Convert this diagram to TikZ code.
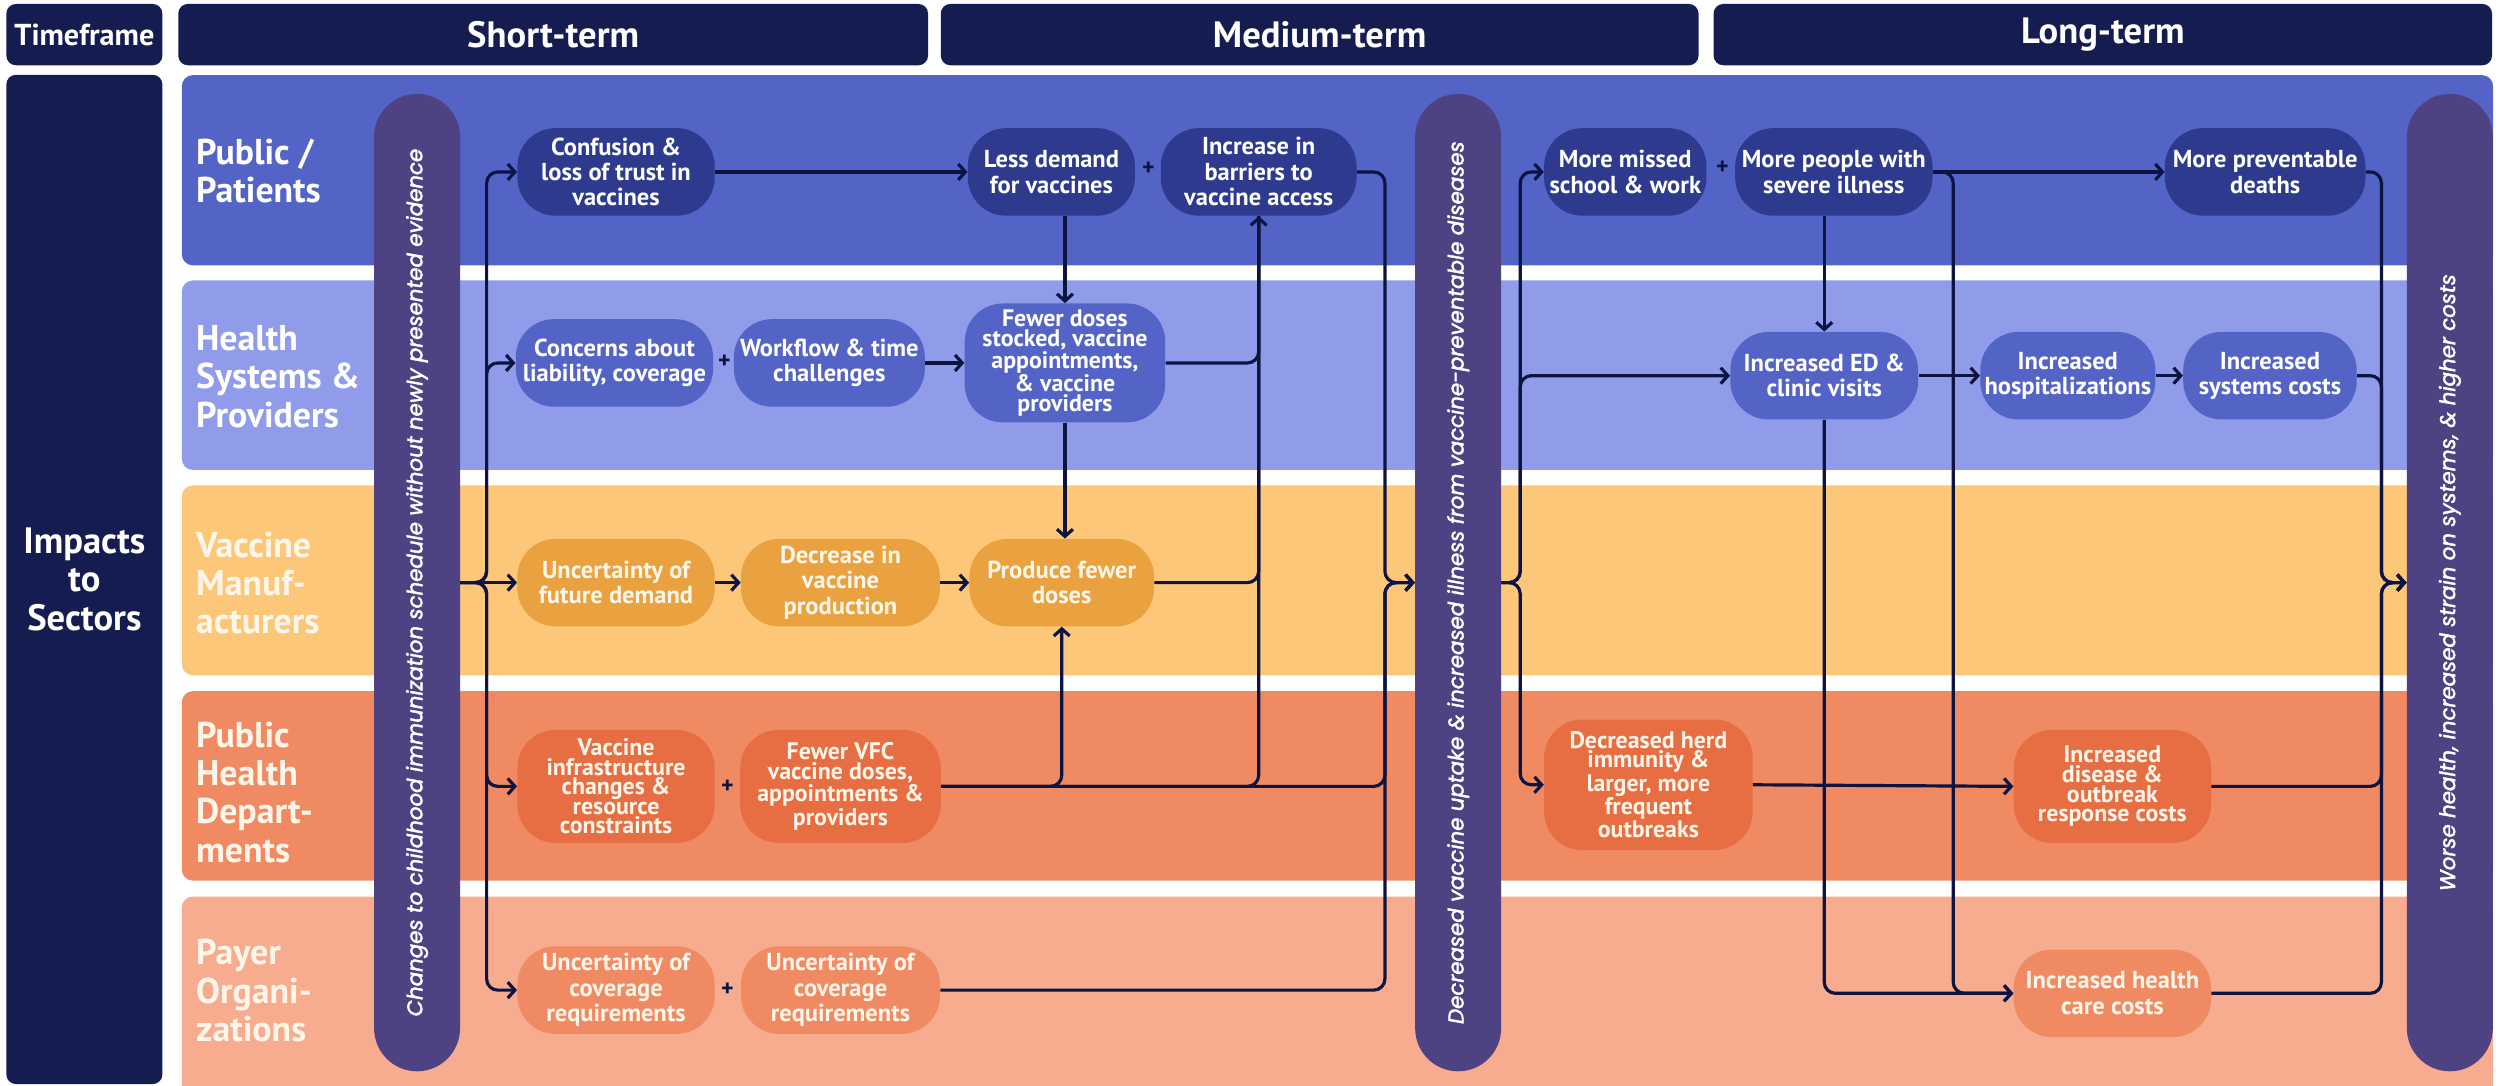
\documentclass[tikz,border=0pt]{standalone}
\usepackage{fontspec}
\setmainfont{PT Sans}
\newfontfamily\barfont{Poppins}[FakeBold=2]
\usetikzlibrary{arrows.meta}
\definecolor{navy}{HTML}{151D50}
\definecolor{laneA}{HTML}{5464C6}
\definecolor{laneB}{HTML}{909CEA}
\definecolor{laneC}{HTML}{FDC779}
\definecolor{laneD}{HTML}{F08A62}
\definecolor{laneE}{HTML}{F7AB8F}
\definecolor{nodeA}{HTML}{2E3A8E}
\definecolor{nodeB}{HTML}{5464C6}
\definecolor{nodeC}{HTML}{E9A23F}
\definecolor{nodeD}{HTML}{E76E42}
\definecolor{nodeE}{HTML}{F08A62}
\definecolor{barc}{HTML}{4E4283}
\definecolor{linec}{HTML}{0E1442}
\definecolor{cream}{HTML}{FFF6EA}
\begin{document}
\begin{tikzpicture}[x=1pt,y=-1pt,
  hdr/.style={fill=navy, rounded corners=6pt, text=white, inner sep=0pt, align=center,
    font=\fontsize{23}{24}\selectfont\bfseries},
  lanebox/.style={rounded corners=7pt, inner sep=0pt, anchor=north west, minimum width=1452pt},
  lbl/.style={anchor=west, align=left, text=white, inner sep=0pt,
    font=\fontsize{22.5}{24}\selectfont\bfseries},
  bx/.style={rounded corners=24pt, align=center, text=white, inner xsep=1pt, inner ysep=4pt,
    minimum height=55pt, font=\fontsize{15.4}{16}\selectfont\bfseries},
  dense/.style={font=\fontsize{15}{12.3}\selectfont\bfseries, minimum height=71pt},
  bA/.style={bx, fill=nodeA},
  bB/.style={bx, fill=nodeB},
  bC/.style={bx, fill=nodeC, text=cream},
  bD/.style={bx, fill=nodeD, text=cream},
  bE/.style={bx, fill=nodeE, text=cream},
  bar/.style={fill=barc, rounded corners=27pt, minimum width=54pt, inner sep=0pt},
  bartext/.style={rotate=90, text=white, inner sep=0pt,
    font=\barfont\itshape\fontsize{13.4}{14}\selectfont},
  conn/.style={draw=linec, line width=2pt, rounded corners=7pt},
  arr/.style={conn, -{Straight Barb[length=4.5pt,width=10pt]}},
  plus/.style={text=linec, inner sep=0pt, font=\fontsize{15}{15}\selectfont\bfseries}
]
\useasboundingbox[fill=white] (0,0) rectangle (1568,682);

% headers
\node[hdr, minimum width=98pt, minimum height=38.5pt, font=\fontsize{19}{22}\selectfont\bfseries] (tf) at (53,21.75) {Timeframe};
\node[hdr, minimum width=471pt, minimum height=38.5pt] (st) at (347.5,21.75) {Short-term};
\node[hdr, minimum width=476pt, minimum height=38.5pt] (mt) at (829,21.75) {Medium-term};
\node[hdr, minimum width=489pt, minimum height=38.5pt] (lt) at (1321,21.75) {Long-term};
\node[hdr, minimum width=98pt, minimum height=634pt] (imp) at (53,364) {Impacts\\to\\Sectors};

% lanes
\node[lanebox, fill=laneA, minimum height=119.5pt] (lane1) at (114,47) {};
\node[lanebox, fill=laneB, minimum height=119pt] (lane2) at (114,176) {};
\node[lanebox, fill=laneC, minimum height=119.3pt] (lane3) at (114,304.7) {};
\node[lanebox, fill=laneD, minimum height=119pt] (lane4) at (114,434) {};
\node[lanebox, fill=laneE, minimum height=130pt] (lane5) at (114,563) {};

\node[lbl] (ll1) at (123,107.3) {Public /\\Patients};
\node[lbl] (ll2) at (123,236.6) {Health\\Systems \&\\Providers};
\node[lbl, text=cream] (ll3) at (123,366.4) {Vaccine\\Manuf-\\acturers};
\node[lbl, text=cream] (ll4) at (123,497.7) {Public\\Health\\Depart-\\ments};
\node[lbl, text=cream] (ll5) at (123,622.3) {Payer\\Organi-\\zations};

% bars
\node[bar, minimum height=614pt] (b1) at (262,366) {};
\node[bar, minimum height=614pt] (b2) at (916,366) {};
\node[bar, minimum height=614pt] (b3) at (1539,366) {};
\node[bartext] (bt1) at (b1.center) {Changes to childhood immunization schedule without newly presented evidence};
\node[bartext] (bt2) at (b2.center) {Decreased vaccine uptake \& increased illness from vaccine-preventable diseases};
\node[bartext] (bt3) at (b3.center) {Worse health, increased strain on systems, \& higher costs};

% lane 1 nodes
\node[bA, minimum width=124pt] (conf) at (387,108) {Confusion \&\\loss of trust in\\vaccines};
\node[bA, minimum width=105pt] (less) at (660.5,108) {Less demand\\for vaccines};
\node[bA, minimum width=123pt] (barr) at (790.7,108) {Increase in\\barriers to\\vaccine access};
\node[bA, minimum width=102pt] (miss) at (1021,108) {More missed\\school \& work};
\node[bA, minimum width=124pt] (sev) at (1152,108) {More people with\\severe illness};
\node[bA, minimum width=126pt] (death) at (1423,108) {More preventable\\deaths};
\node[plus] (p1) at (721.5,106) {+};
\node[plus] (p2) at (1082,105.5) {+};

% lane 2 nodes
\node[bB, minimum width=124pt] (conc) at (386,228) {Concerns about\\liability, coverage};
\node[bB, minimum width=120pt] (work) at (521,228) {Workflow \& time\\challenges};
\node[bB, dense, minimum width=126pt, minimum height=72pt] (fewer) at (669,228) {Fewer doses\\stocked, vaccine\\appointments,\\\& vaccine\\providers};
\node[bB, minimum width=118pt] (ed) at (1146,236) {Increased ED \&\\clinic visits};
\node[bB, minimum width=110pt] (hosp) at (1299,236) {Increased\\hospitalizations};
\node[bB, minimum width=109pt] (sys) at (1426,236) {Increased\\systems costs};
\node[plus] (p3) at (455,227) {+};

% lane 3 nodes
\node[bC, minimum width=124pt] (unc) at (387,366) {Uncertainty of\\future demand};
\node[bC, minimum width=125pt] (dec) at (528,366) {Decrease in\\vaccine\\production};
\node[bC, minimum width=116pt] (prod) at (667,366) {Produce fewer\\doses};

% lane 4 nodes
\node[bD, dense, minimum width=124pt] (infra) at (387,494) {Vaccine\\infrastructure\\changes \&\\resource\\constraints};
\node[bD, dense, minimum width=126pt] (vfc) at (528,494) {Fewer VFC\\vaccine doses,\\appointments \&\\providers};
\node[bD, dense, minimum width=131pt, minimum height=82pt] (herd) at (1035.5,493) {Decreased herd\\immunity \&\\larger, more\\frequent\\outbreaks};
\node[bD, dense, minimum width=124pt] (outb) at (1327,494) {Increased\\disease \&\\outbreak\\response costs};
\node[plus] (p4) at (457,494) {+};

% lane 5 nodes
\node[bE, minimum width=124pt] (cov1) at (387,622) {Uncertainty of\\coverage\\requirements};
\node[bE, minimum width=125pt] (cov2) at (528,622) {Uncertainty of\\coverage\\requirements};
\node[bE, minimum width=124pt] (hcc) at (1327,624) {Increased health\\care costs};
\node[plus] (p5) at (457,622) {+};

% connectors: bar 1 outputs
\coordinate (t1) at (305.7,366);
\draw[arr] (b1.east) -- (unc.west);
\foreach \n in {conf,conc,infra,cov1} \draw[arr] (b1.east) -- (t1) |- (\n.west);

% short-term flows
\draw[arr] (conf.east) -- (less.west);
\draw[arr] (work.east) -- (fewer.west);
\draw[arr] (unc.east) -- (dec.west);
\draw[arr] (dec.east) -- (prod.west);
\draw[arr] (less.south -| fewer.north) -- (fewer.north);
\draw[arr] (fewer.south) -- (fewer.south |- prod.north);
\draw[arr] (vfc.east) -| (prod.south);
\draw[arr] (vfc.east) -| (barr.south);
\draw[conn] (fewer.east) -| (barr.south);
\draw[conn] (prod.east) -| (barr.south);

% into bar 2
\coordinate (t2) at (870,366);
\draw[arr] (barr.east) -| (t2) -- (b2.west);
\draw[arr] (vfc.east) -| (t2) -- (b2.west);
\draw[arr] (cov2.east) -| (t2) -- (b2.west);

% bar 2 outputs
\coordinate (t3) at (955,366);
\foreach \n in {miss,ed,herd} \draw[arr] (b2.east) -- (t3) |- (\n.west);

% long-term flows
\draw[arr] (sev.east) -- (death.west);
\draw[arr] (sev.south -| ed.north) -- (ed.north);
\coordinate (t4) at (1227,624);
\draw[arr] (sev.east) -| (t4) -- (hcc.west);
\draw[arr] (ed.south) |- (hcc.west);
\draw[arr] (ed.east) -- (hosp.west);
\draw[arr] (hosp.east) -- (sys.west);
\draw[arr] (herd.east) -- (outb.west);

% into bar 3
\coordinate (t5) at (1496,366);
\foreach \n in {death,sys,outb,hcc} \draw[arr] (\n.east) -| (t5) -- (b3.west);
\end{tikzpicture}
\end{document}
